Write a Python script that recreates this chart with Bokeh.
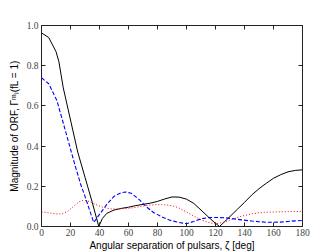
from bokeh.plotting import figure
from bokeh.models import LinearAxis, Range1d, FixedTicker, CustomLabelingPolicy
from bokeh.embed import file_html
from bokeh.resources import INLINE

# Angular separation (deg) and |Gamma| for the three curves
zeta_black = [0, 5, 10, 12, 15, 20, 25, 30, 35, 39.5, 42, 45, 50, 55, 60, 65, 70, 75, 80, 85, 90, 95,
              100, 105, 110, 115, 119, 122.8, 126, 130, 135, 140, 145, 150, 155, 160, 165, 170, 175, 180]
gamma_black = [0.963, 0.94, 0.87, 0.82, 0.69, 0.53, 0.37, 0.245, 0.12, 0.0, 0.04, 0.065, 0.082, 0.09,
               0.096, 0.104, 0.11, 0.116, 0.125, 0.137, 0.147, 0.146, 0.136, 0.115, 0.082, 0.048, 0.022,
               0.0, 0.022, 0.05, 0.085, 0.12, 0.157, 0.188, 0.215, 0.24, 0.258, 0.272, 0.279, 0.282]

zeta_blue = [0, 5, 10.6, 15, 20, 23.2, 27, 30, 33, 36, 40, 45, 50, 55, 58, 62, 68, 72, 77, 83, 89, 95,
             100, 105, 110, 115, 120, 127, 133, 138, 145, 150, 155, 160, 165, 170, 175, 180]
gamma_blue = [0.74, 0.71, 0.627, 0.515, 0.385, 0.303, 0.21, 0.15, 0.085, 0.02, 0.06, 0.11, 0.15, 0.168,
              0.172, 0.165, 0.13, 0.10, 0.071, 0.048, 0.03, 0.02, 0.014, 0.025, 0.038, 0.044, 0.045,
              0.043, 0.038, 0.033, 0.027, 0.024, 0.021, 0.021, 0.022, 0.025, 0.028, 0.03]

zeta_red = [0, 5, 10, 14, 18, 22, 26, 29, 33, 37, 42, 47, 52, 57, 62, 67, 72, 78, 83, 88, 92, 96, 100,
            105, 110, 115, 120, 125, 130, 135, 140, 145, 150, 155, 160, 170, 180]
gamma_red = [0.073, 0.068, 0.063, 0.062, 0.075, 0.1, 0.123, 0.13, 0.125, 0.11, 0.097, 0.088, 0.087,
             0.089, 0.092, 0.098, 0.104, 0.108, 0.109, 0.106, 0.1, 0.088, 0.072, 0.052, 0.034, 0.02,
             0.013, 0.02, 0.032, 0.045, 0.055, 0.063, 0.068, 0.071, 0.072, 0.074, 0.075]

x_ticks = [0, 20, 40, 60, 80, 100, 120, 140, 160, 180]
y_ticks = [0.0, 0.2, 0.4, 0.6, 0.8, 1.0]
y_tick_labels = {0.0: "0.0", 0.2: "0.2", 0.4: "0.4", 0.6: "0.6", 0.8: "0.8", 1.0: "1.0"}

p = figure(frame_width=261, frame_height=201,
           x_range=Range1d(0, 180), y_range=Range1d(0, 1),
           output_backend="svg", toolbar_location=None,
           min_border_left=41, min_border_top=25, min_border_right=20, min_border_bottom=20)
p.xgrid.visible = False
p.ygrid.visible = False
p.outline_line_color = "#222222"
p.outline_line_width = 1
p.outline_line_alpha = 1
p.background_fill_color = "white"
p.border_fill_color = "white"

tick_font = "Liberation Serif"
for ax in (p.xaxis[0], p.yaxis[0]):
    ax.axis_line_color = None
    ax.major_tick_in = 4
    ax.major_tick_out = 0
    ax.minor_tick_line_color = None
    ax.major_tick_line_color = "#222222"
    ax.major_label_text_font = tick_font
    ax.major_label_text_font_size = "9.5px"
    ax.major_label_text_color = "#444444"
    ax.axis_label_text_font = "Liberation Sans"
    ax.axis_label_text_font_style = "normal"
    ax.axis_label_text_font_size = "10px"
    ax.axis_label_text_color = "black"

p.xaxis.ticker = FixedTicker(ticks=x_ticks)
p.yaxis.ticker = FixedTicker(ticks=y_ticks)
p.yaxis.major_label_overrides = y_tick_labels
p.xaxis.major_label_standoff = 2
p.yaxis.major_label_standoff = 3
p.xaxis.axis_label = "Angular separation of pulsars, ζ [deg]"
p.yaxis.axis_label = "Magnitude of ORF, Γᵐₗ(fL = 1)"
p.xaxis.axis_label_standoff = 1
p.yaxis.axis_label_standoff = 4

no_labels = CustomLabelingPolicy(code="""
const ids = [...indices];
for (const i of ids) { indices.unset(i); }
return indices;
""")

top = LinearAxis(ticker=FixedTicker(ticks=x_ticks), axis_line_color=None,
                 major_tick_in=4, major_tick_out=0, minor_tick_line_color=None,
                 major_label_policy=no_labels, major_label_standoff=0,
                 major_label_text_font_size="1px",
                 major_tick_line_color="#222222")
right = LinearAxis(ticker=FixedTicker(ticks=y_ticks), axis_line_color=None,
                   major_tick_in=4, major_tick_out=0, minor_tick_line_color=None,
                   major_label_policy=no_labels, major_label_standoff=0,
                   major_label_text_font_size="1px",
                   major_tick_line_color="#222222")
p.add_layout(top, "above")
p.add_layout(right, "right")

p.line(zeta_black, gamma_black, line_color="black", line_width=1)
p.line(zeta_blue, gamma_blue, line_color="blue", line_width=1.1, line_dash="4 2")
p.line(zeta_red, gamma_red, line_color="red", line_width=1, line_dash="1 2")

open("out.html", "w").write(file_html(p, INLINE))
